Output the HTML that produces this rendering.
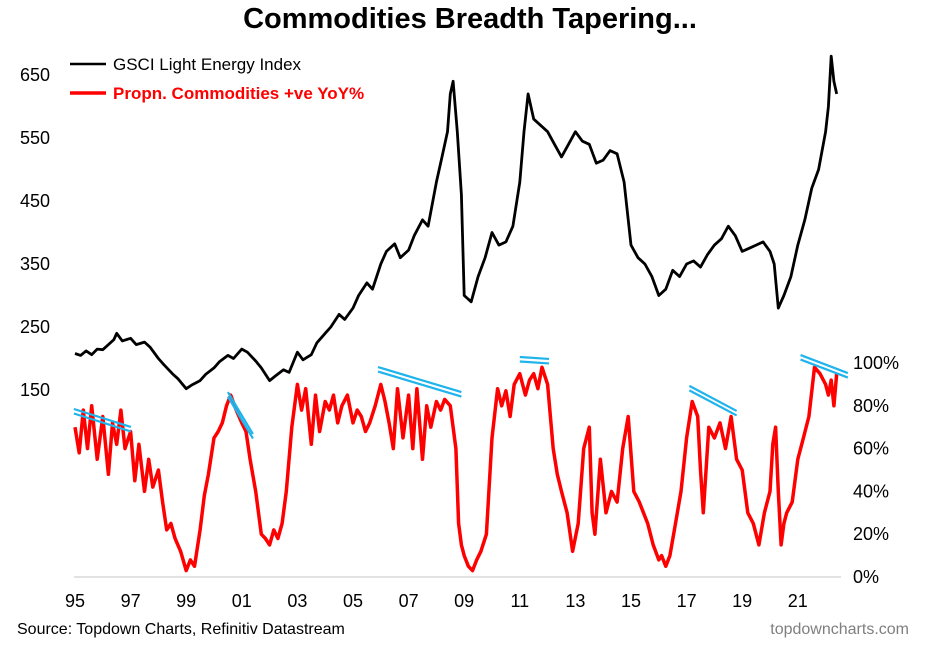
<!DOCTYPE html>
<html><head><meta charset="utf-8"><style>
body{margin:0;background:#fff;width:925px;height:645px;overflow:hidden;font-family:"Liberation Sans",Arial,sans-serif}
svg text{font-family:"Liberation Sans",Arial,sans-serif}
</style></head><body>
<svg id="chart" width="925" height="645" viewBox="0 0 925 645" xmlns="http://www.w3.org/2000/svg">
<text x="470" y="28" text-anchor="middle" font-size="29" font-weight="bold" fill="#000">Commodities Breadth Tapering...</text>
<line x1="70" y1="64" x2="106" y2="64" stroke="#000" stroke-width="2.5"/>
<text x="113" y="70" font-size="17" fill="#000">GSCI Light Energy Index</text>
<line x1="70" y1="93" x2="106" y2="93" stroke="#f00" stroke-width="3.5"/>
<text x="113" y="99" font-size="17" font-weight="bold" fill="#f00">Propn. Commodities +ve YoY%</text>
<line x1="74" y1="577" x2="841" y2="577" stroke="#d9d9d9" stroke-width="1.5"/>
<g id="axes"></g>
<g id="series"></g>
<g id="trends"></g>
<text x="17" y="634" font-size="16" fill="#000">Source: Topdown Charts, Refinitiv Datastream</text>
<text x="909" y="634" text-anchor="end" font-size="16" fill="#7f7f7f">topdowncharts.com</text>
</svg>
<script>
const xTickLabels=["95","97","99","01","03","05","07","09","11","13","15","17","19","21"];
const xTickYears=[1995,1997,1999,2001,2003,2005,2007,2009,2011,2013,2015,2017,2019,2021];
const leftTicks=[150,250,350,450,550,650];
const rightTicks=[0,20,40,60,80,100];
const gsciDates=[1995,1995.2,1995.4,1995.6,1995.8,1996,1996.2,1996.4,1996.5,1996.7,1997,1997.2,1997.5,1997.7,1998,1998.2,1998.5,1998.7,1999,1999.2,1999.5,1999.7,2000,2000.2,2000.5,2000.7,2001,2001.2,2001.5,2001.7,2002,2002.2,2002.5,2002.7,2003,2003.2,2003.5,2003.7,2004,2004.2,2004.5,2004.7,2005,2005.2,2005.5,2005.7,2006,2006.2,2006.5,2006.7,2007,2007.2,2007.5,2007.7,2008,2008.2,2008.4,2008.5,2008.6,2008.75,2008.9,2009,2009.25,2009.5,2009.75,2010,2010.25,2010.5,2010.75,2011,2011.15,2011.3,2011.5,2011.75,2012,2012.25,2012.5,2012.75,2013,2013.25,2013.5,2013.75,2014,2014.25,2014.5,2014.75,2015,2015.25,2015.5,2015.75,2016,2016.25,2016.5,2016.75,2017,2017.25,2017.5,2017.75,2018,2018.25,2018.5,2018.75,2019,2019.25,2019.5,2019.75,2020,2020.15,2020.3,2020.5,2020.75,2021,2021.25,2021.5,2021.75,2022,2022.1,2022.2,2022.3,2022.4];
const gsciValues=[208,205,212,206,215,214,222,230,240,228,232,222,226,218,200,190,176,168,152,158,165,175,185,195,205,200,215,210,196,185,165,172,182,178,210,198,206,225,240,250,270,262,280,300,320,310,350,370,382,360,372,395,420,410,480,520,560,620,640,560,460,300,290,330,360,400,380,385,410,480,560,620,580,570,560,540,520,540,560,545,540,510,515,530,525,480,380,360,350,330,300,310,340,330,350,355,345,365,380,390,410,395,370,375,380,385,370,350,280,300,330,380,420,470,500,560,600,680,640,620];
const breadthDates=[1995,1995.15,1995.3,1995.45,1995.6,1995.8,1996,1996.2,1996.35,1996.5,1996.65,1996.8,1997,1997.15,1997.3,1997.5,1997.65,1997.8,1998,1998.15,1998.3,1998.45,1998.6,1998.8,1999,1999.15,1999.3,1999.5,1999.65,1999.8,2000,2000.15,2000.3,2000.45,2000.6,2000.8,2001,2001.15,2001.3,2001.5,2001.7,2001.85,2002,2002.15,2002.3,2002.45,2002.6,2002.8,2003,2003.15,2003.3,2003.5,2003.65,2003.8,2004,2004.15,2004.3,2004.45,2004.6,2004.8,2005,2005.15,2005.3,2005.45,2005.6,2005.8,2006,2006.15,2006.3,2006.45,2006.6,2006.8,2007,2007.15,2007.3,2007.5,2007.65,2007.8,2008,2008.15,2008.3,2008.5,2008.7,2008.8,2008.9,2009,2009.15,2009.3,2009.45,2009.6,2009.8,2010,2010.2,2010.35,2010.5,2010.65,2010.8,2011,2011.2,2011.35,2011.5,2011.65,2011.8,2012,2012.2,2012.35,2012.5,2012.7,2012.9,2013.1,2013.3,2013.5,2013.6,2013.7,2013.9,2014.1,2014.3,2014.5,2014.7,2014.9,2015.1,2015.3,2015.45,2015.6,2015.8,2016,2016.1,2016.25,2016.4,2016.6,2016.8,2017,2017.2,2017.4,2017.5,2017.6,2017.8,2018,2018.2,2018.4,2018.6,2018.8,2019,2019.2,2019.4,2019.6,2019.8,2020,2020.1,2020.2,2020.3,2020.4,2020.5,2020.6,2020.8,2021,2021.2,2021.4,2021.6,2021.8,2022,2022.1,2022.2,2022.3,2022.4];
const breadthValues=[70,58,78,60,80,55,75,48,72,62,78,60,68,45,62,40,55,42,50,35,22,25,18,12,3,8,5,22,38,48,65,68,72,80,85,78,72,68,55,40,20,18,15,22,18,25,40,70,90,78,88,62,85,68,82,78,85,72,80,85,72,78,75,68,72,80,90,82,72,60,88,65,85,60,88,55,80,70,82,78,83,80,60,25,15,10,5,3,8,12,20,65,88,80,87,75,90,95,85,92,95,88,98,90,60,48,40,30,12,25,60,70,30,20,55,30,40,35,60,75,40,35,30,25,15,8,10,5,10,25,40,65,82,75,50,30,70,65,72,60,75,55,50,30,25,15,30,40,62,70,40,15,25,30,35,55,65,75,98,95,90,85,92,80,95,75];
const trendStartYear=[1994.96,2000.5,2005.9,2011.0,2017.1,2021.1];
const trendStartPct=[78.5,86.4,98.1,102.8,89.3,103.7];
const trendEndYear=[1997.01,2001.4,2008.9,2012.05,2018.8,2022.8];
const trendEndPct=[70.1,66.8,86.4,101.9,77.6,95.3];

const NS="http://www.w3.org/2000/svg";
const xS=y=>75+(y-1995)*27.8;
const yL=v=>75+(650-v)*0.63;
const yR=p=>577-p*2.14;
const axes=document.getElementById('axes');
function txt(x,y,s,anchor){const t=document.createElementNS(NS,'text');t.setAttribute('x',x);t.setAttribute('y',y);t.setAttribute('font-size','18');t.setAttribute('fill','#000');t.setAttribute('text-anchor',anchor);t.textContent=s;axes.appendChild(t);return t;}
xTickYears.forEach((yr,i)=>{const t=txt(xS(yr),607,xTickLabels[i],'middle');

});
leftTicks.forEach(v=>{const t=txt(20,yL(v)+6,String(v),'start');

});
rightTicks.forEach(v=>{const t=txt(853,yR(v)+6,v+'%','start');

});
const series=document.getElementById('series');
function poly(xs,ys,fy,color,w){const p=document.createElementNS(NS,'polyline');p.setAttribute('points',xs.map((d,i)=>xS(d).toFixed(1)+','+fy(ys[i]).toFixed(1)).join(' '));p.setAttribute('fill','none');p.setAttribute('stroke',color);p.setAttribute('stroke-width',w);p.setAttribute('stroke-linejoin','round');series.appendChild(p);return p;}
const pb=poly(gsciDates,gsciValues,yL,'#000',2.8);


const pr=poly(breadthDates,breadthValues,yR,'#f00',3.5);


const tg=document.getElementById('trends');
trendStartYear.forEach((s,i)=>{[0,4.5].forEach(off=>{const l=document.createElementNS(NS,'line');
l.setAttribute('x1',xS(s));l.setAttribute('y1',yR(trendStartPct[i])+off);l.setAttribute('x2',xS(trendEndYear[i]));l.setAttribute('y2',yR(trendEndPct[i])+off);
l.setAttribute('stroke','#1fb4ec');l.setAttribute('stroke-width','2.2');


tg.appendChild(l);});});
</script>
</body></html>
